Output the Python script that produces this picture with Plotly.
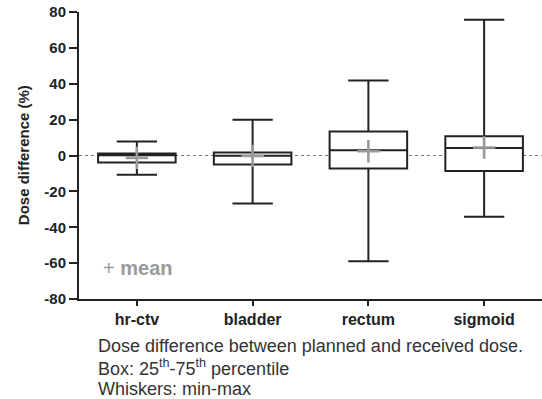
import plotly.graph_objects as go

categories = ["hr-ctv", "bladder", "rectum", "sigmoid"]
mins = [-10.8, -26.7, -59.0, -34.2]
q1s = [-3.9, -5.0, -7.2, -8.6]
medians = [0.2, -0.2, 2.9, 4.2]
q3s = [1.1, 1.7, 13.4, 10.7]
maxs = [7.8, 20.0, 41.8, 75.7]
means = [-1.3, -0.3, 2.4, 4.5]
y_ticks = [-80, -60, -40, -20, 0, 20, 40, 60, 80]

xs = list(range(len(categories)))
FONT = "Liberation Sans, Arial, sans-serif"

W, H = 542, 399
L = 79.3
T = 12
B = H - 299.3
PW = W - L
PH = 299.3 - 12

fig = go.Figure()
fig.add_trace(go.Box(
    x=xs, q1=q1s, median=medians, q3=q3s, lowerfence=mins, upperfence=maxs,
    fillcolor="white", line=dict(color="#222222", width=2),
    width=0.67, whiskerwidth=0.52, boxpoints=False, showlegend=False,
    hoverinfo="skip",
))
fig.add_trace(go.Scatter(
    x=xs, y=means, mode="markers",
    marker=dict(symbol="cross-thin", size=16, line=dict(color="#9a9a9a", width=2.6)),
    showlegend=False, hoverinfo="skip",
))

fig.add_shape(type="line", xref="paper", yref="y", x0=0, x1=1, y0=0, y1=0,
              line=dict(color="#777777", width=1.2, dash="dot"), layer="below")

fig.add_annotation(x=(101 - 79.3) / PW, y=-62.5, xref="paper", yref="y",
                   text="+ <b>mean</b>", showarrow=False,
                   font=dict(family=FONT, size=20, color="#9a9a9a"),
                   xanchor="left", yanchor="middle")

fig.add_annotation(x=(24 - 79.3) / PW, y=0.5, xref="paper", yref="paper",
                   text="<b>Dose difference (%)</b>", textangle=-90, showarrow=False,
                   font=dict(family=FONT, size=15, color="#222222"),
                   xanchor="center", yanchor="middle")

cap_font = dict(family=FONT, size=18, color="#333333")
for txt, ypx in [("Dose difference between planned and received dose.", 346),
                 ("Box: 25<sup>th</sup>-75<sup>th</sup> percentile", 368),
                 ("Whiskers: min-max", 389)]:
    fig.add_annotation(x=(96 - 79.3) / PW, y=(299.3 - ypx) / PH, xref="paper", yref="paper",
                       text=txt, showarrow=False, font=cap_font, xanchor="left", yanchor="middle")

fig.update_layout(
    width=W, height=H,
    margin=dict(l=L, r=0, t=T, b=B, pad=0),
    plot_bgcolor="white", paper_bgcolor="white",
    font=dict(family=FONT, color="#222222"),
)
fig.update_xaxes(
    range=[-0.5, 3.5], tickvals=xs, ticktext=["<b>%s</b>" % c for c in categories],
    showline=True, linecolor="#222222", linewidth=2, ticks="outside", ticklen=5,
    tickwidth=2, tickcolor="#222222", showgrid=False, zeroline=False,
    tickfont=dict(family=FONT, size=16, color="#222222"),
)
fig.update_yaxes(
    range=[-80, 80], tickvals=y_ticks, ticktext=["<b>%d</b>" % v for v in y_ticks],
    showline=True, linecolor="#222222", linewidth=2, ticks="outside", ticklen=8,
    tickwidth=2, tickcolor="#222222", showgrid=False, zeroline=False,
    tickfont=dict(family=FONT, size=15, color="#222222"),
)

fig.write_html("out.html", config={"displayModeBar": False},
               post_script="document.body.style.margin='0';document.body.style.overflow='hidden';")
